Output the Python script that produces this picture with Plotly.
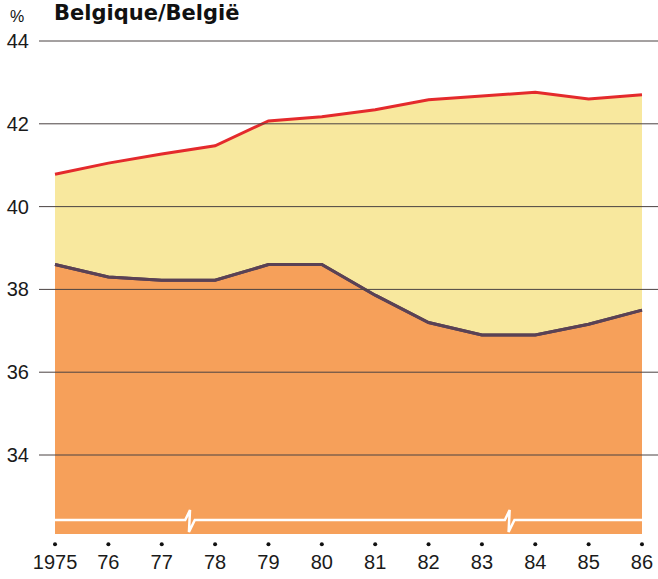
import plotly.graph_objects as go

years = [1975, 1976, 1977, 1978, 1979, 1980, 1981, 1982, 1983, 1984, 1985, 1986]
year_labels = ["1975", "76", "77", "78", "79", "80", "81", "82", "83", "84", "85", "86"]
lower_series = [38.6, 38.3, 38.22, 38.22, 38.6, 38.6, 37.86, 37.2, 36.9, 36.9, 37.16, 37.5]
upper_series = [40.78, 41.05, 41.27, 41.47, 42.07, 42.17, 42.34, 42.58, 42.67, 42.76, 42.6, 42.7]
y_ticks = [34, 36, 38, 40, 42, 44]
break_years = [1977.44, 1983.43]

Y0, Y1 = 31.826, 44.266
X0, X1 = 1974.70, 1986.30
BASE = 32.09
BREAK_Y = 32.43

ORANGE = "#F6A05A"
YELLOW = "#F8E89E"
RED = "#E42A2C"
DARK = "#5A4255"
GRID = "#4a4242"

fig = go.Figure()

fig.add_trace(go.Scatter(x=years, y=[BASE] * len(years), mode="lines",
                         line=dict(width=0, color=ORANGE), hoverinfo="skip", showlegend=False))
fig.add_trace(go.Scatter(x=years, y=lower_series, mode="lines", fill="tonexty",
                         fillcolor=ORANGE, line=dict(color=DARK, width=3),
                         showlegend=False))
fig.add_trace(go.Scatter(x=years, y=upper_series, mode="lines", fill="tonexty",
                         fillcolor=YELLOW, line=dict(color=RED, width=3),
                         showlegend=False))
# redraw dark line on top of the yellow fill
fig.add_trace(go.Scatter(x=years, y=lower_series, mode="lines",
                         line=dict(color=DARK, width=3), hoverinfo="skip", showlegend=False))

# axis-break line with two zigzags
bx, by = [years[0]], [BREAK_Y]
for b in break_years:
    bx += [b, b + 0.09, b + 0.07, b + 0.18]
    by += [BREAK_Y, BREAK_Y + 0.24, BREAK_Y - 0.29, BREAK_Y]
bx.append(years[-1])
by.append(BREAK_Y)
fig.add_trace(go.Scatter(x=bx, y=by, mode="lines", line=dict(color="white", width=2.5),
                         hoverinfo="skip", showlegend=False))

# tick dots
fig.add_trace(go.Scatter(x=years, y=[Y0 + 0.02] * len(years), mode="markers",
                         marker=dict(color="#111", size=4), cliponaxis=False,
                         hoverinfo="skip", showlegend=False))

shapes = []
for t in y_ticks:
    shapes.append(dict(type="line", xref="paper", x0=0, x1=1, yref="y", y0=t, y1=t,
                       line=dict(color=GRID, width=1), layer="above"))

fig.update_layout(
    width=658, height=579,
    margin=dict(l=39, r=0, t=30, b=34),
    paper_bgcolor="white", plot_bgcolor="white",
    font=dict(family="Liberation Sans, Arial, sans-serif", size=20, color="#1a1a1a"),
    shapes=shapes,
    xaxis=dict(range=[X0, X1], tickvals=years, ticktext=year_labels, showgrid=False,
               zeroline=False, showline=False, ticks="", ticklabelstandoff=3,
               tickfont=dict(size=20)),
    yaxis=dict(range=[Y0, Y1], tickvals=y_ticks, showgrid=False, zeroline=False,
               showline=False, ticks="", ticklabelstandoff=9, tickfont=dict(size=20)),
    annotations=[
        dict(text="<b>Belgique/België</b>", xref="paper", yref="paper",
             x=(52 - 39) / 619, y=1 + 3 / 515, xanchor="left", yanchor="bottom",
             showarrow=False, font=dict(family="DejaVu Sans, sans-serif", size=21, color="#111")),
        dict(text="%", xref="paper", yref="paper", x=-(39 - 8) / 619, y=1 + 3 / 515,
             xanchor="left", yanchor="bottom", showarrow=False,
             font=dict(size=16, color="#111")),
    ],
)

fig.write_html("out.html", config={"displayModeBar": False},
               post_script="document.body.style.margin='0';")
